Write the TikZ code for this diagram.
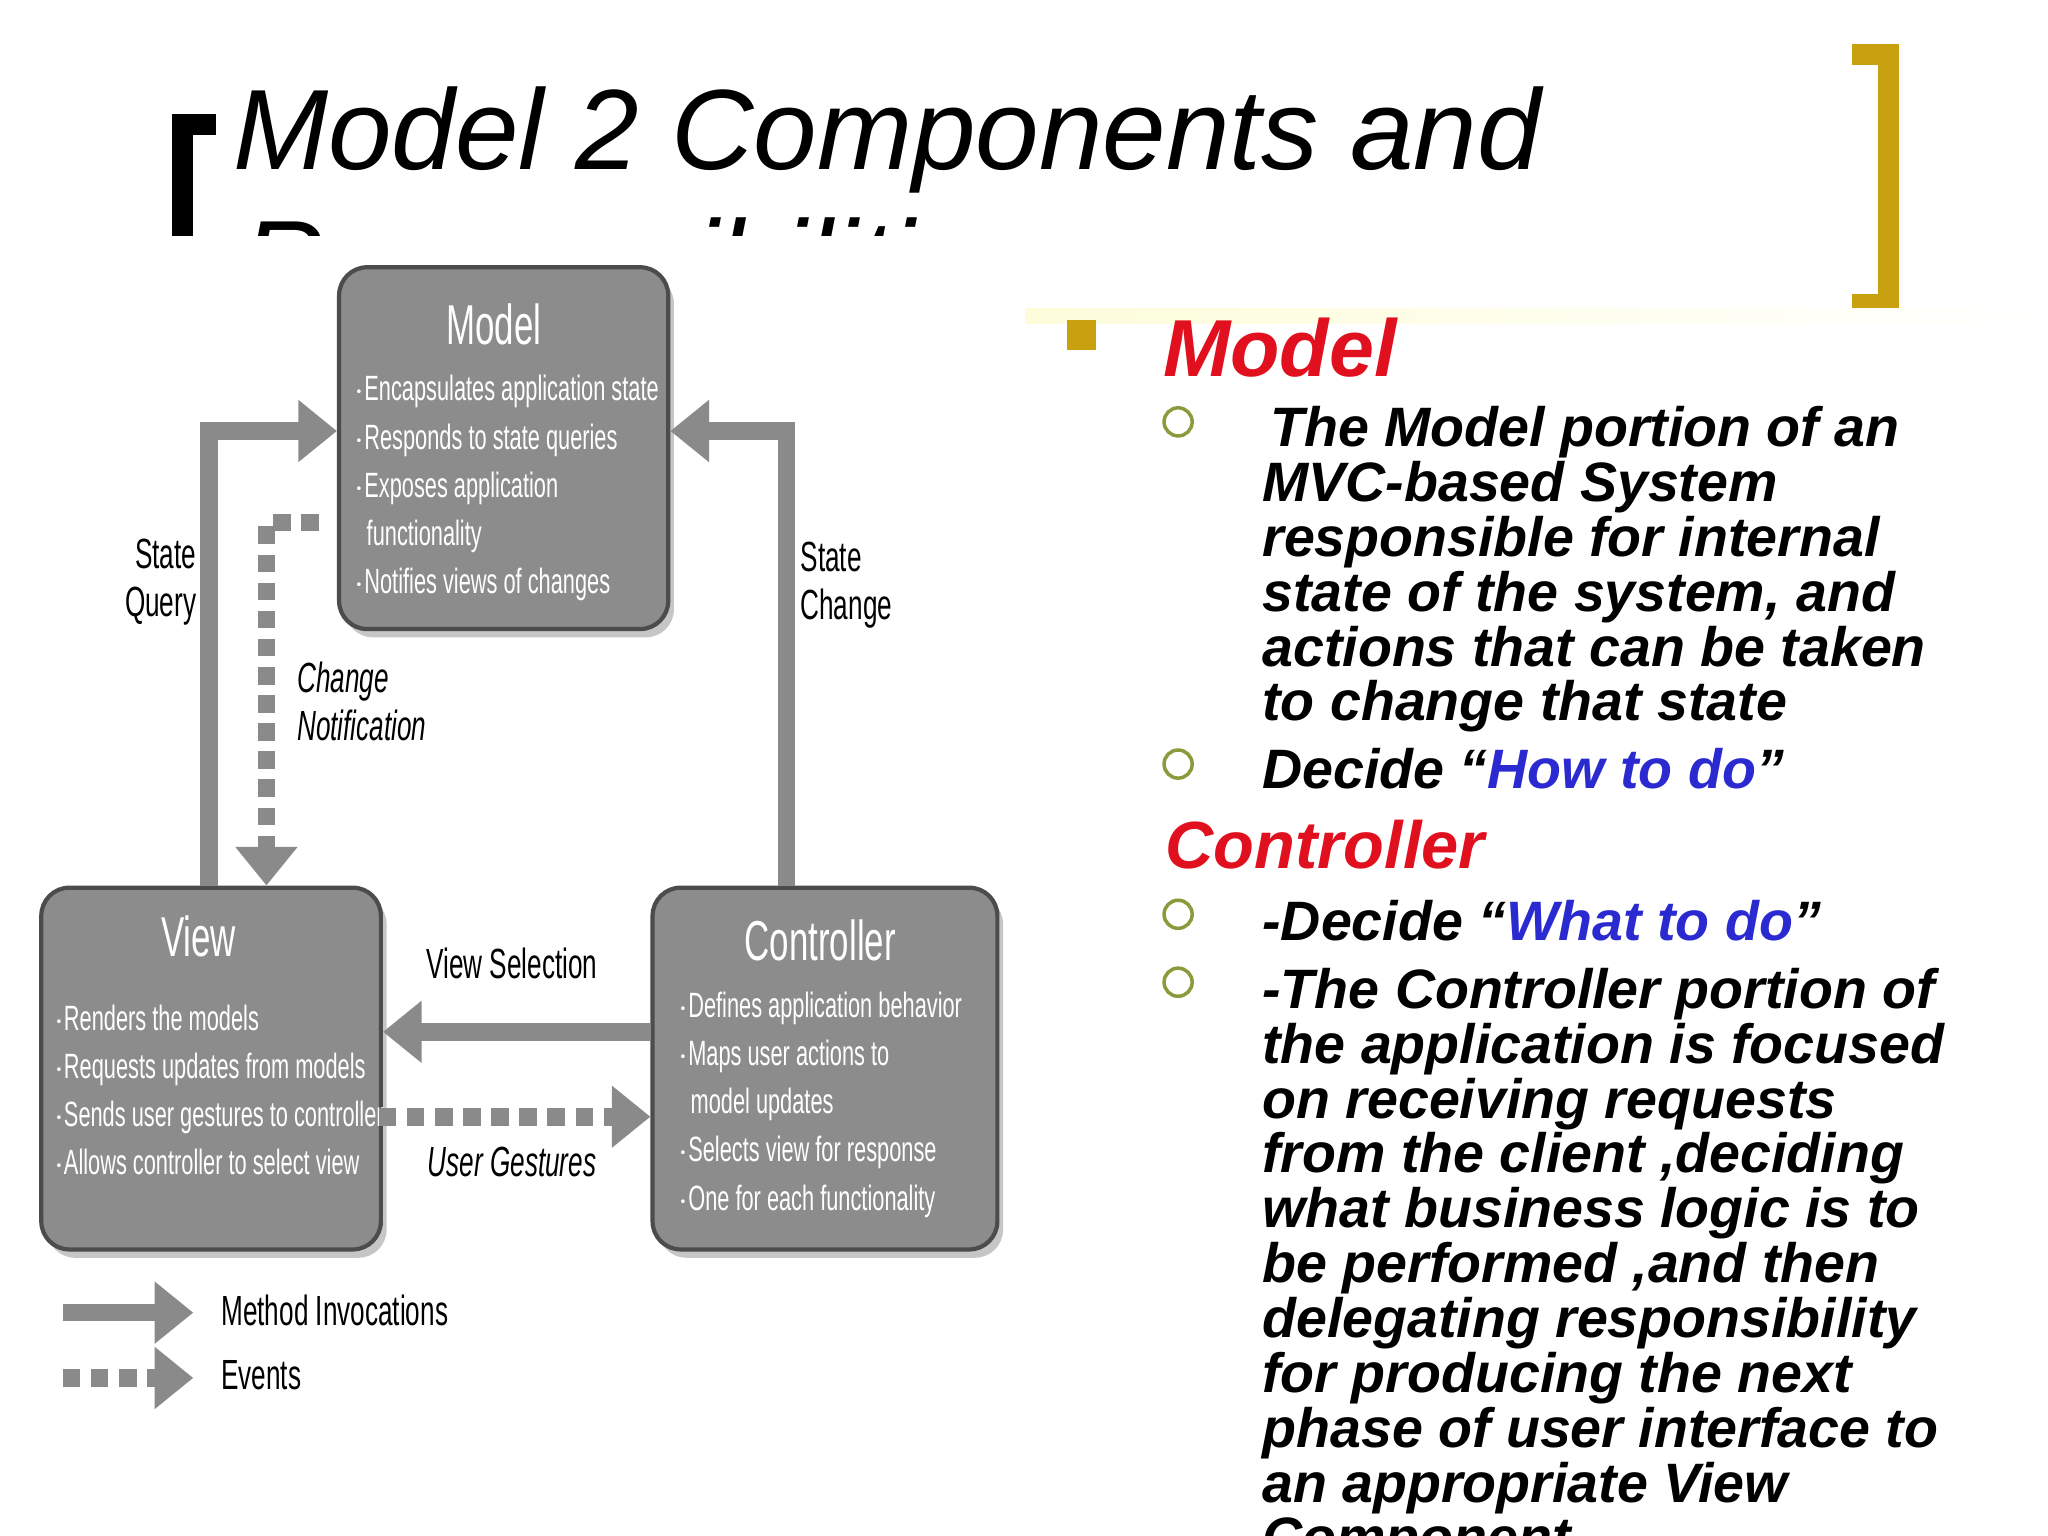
\documentclass[tikz,border=0pt]{standalone}
\usepackage{fontspec}
\setmainfont{Liberation Sans}
\newfontfamily\cond{Liberation Sans}[FakeStretch=0.62]
\usetikzlibrary{arrows.meta}
\definecolor{boxg}{HTML}{8C8C8C}
\definecolor{arrg}{HTML}{8A8A8A}
\definecolor{mred}{HTML}{E0101E}
\definecolor{mblue}{HTML}{2A2AD0}
\definecolor{gold}{HTML}{C9A010}
\definecolor{olive}{HTML}{8C9A3C}
\begin{document}
\begin{tikzpicture}[x=0.013061cm,y=-0.013061cm,
  box/.style={draw=gray!60!black,line width=1.2pt,fill=boxg,rounded corners=8pt},
  shad/.style={fill=gray!45,rounded corners=8pt},
  btitle/.style={text=white,font=\cond\fontsize{16}{18}\selectfont},
  btext/.style={text=white,font=\cond\fontsize{10}{13.7}\selectfont,align=left,anchor=north west},
  marr/.style={draw=arrg,line width=5pt,-{Triangle[length=11pt,width=17pt]}},
  earr/.style={draw=arrg,line width=5pt,dash pattern=on 5pt off 3pt,-{Triangle[length=11pt,width=17pt]}},
  lab/.style={font=\cond\fontsize{12}{13.7}\selectfont,align=left,text=black},
  rt/.style={font=\bfseries\itshape\fontsize{15.8}{15.6}\selectfont,anchor=base west,inner sep=0pt},
  circ/.style={draw=olive,line width=1pt,circle,inner sep=0pt,minimum size=8pt}]
\useasboundingbox (0,0) rectangle (1568,1176);
% title
\begin{scope}
\clip (0,0) rectangle (1568,180);
\node[anchor=base west,font=\itshape\fontsize{32.5}{44}\selectfont,inner sep=0] (title) at (178,130) {Model 2 Components and};
\node[anchor=base west,font=\itshape\fontsize{32.5}{44}\selectfont,inner sep=0] (title2) at (185,230) {Responsibilities};
\draw[line width=6pt] (165,95) -- (140,95) -- (140,200);
\end{scope}
\draw[gold,line width=6pt] (1418,42) -- (1446,42) -- (1446,233) -- (1418,233);
\shade[left color=gray!10!yellow!15,right color=white] (785,236) rectangle (1568,248);
% boxes
\fill[shad] (264,211) rectangle (516,488);
\node[box,minimum width=252*0.013061cm,minimum height=277*0.013061cm,anchor=north west] (model) at (258,203) {};
\fill[shad] (36,686) rectangle (296,963);
\node[box,minimum width=260*0.013061cm,minimum height=277*0.013061cm,anchor=north west] (view) at (30,678) {};
\fill[shad] (504,686) rectangle (768,963);
\node[box,minimum width=264*0.013061cm,minimum height=277*0.013061cm,anchor=north west] (ctrl) at (498,678) {};
\node[btitle] (mt) at (378,248) {Model};
\node[btext] (mb) at (262,278) {$\cdot$Encapsulates application state\\$\cdot$Responds to state queries\\$\cdot$Exposes application\\\ \ functionality\\$\cdot$Notifies views of changes};
\node[btitle] (vt) at (152,717) {View};
\node[btext] (vb) at (32,760) {$\cdot$Renders the models\\$\cdot$Requests updates from models\\$\cdot$Sends user gestures to controller\\$\cdot$Allows controller to select view};
\node[btitle] (ct) at (628,720) {Controller};
\node[btext] (cb) at (510,750) {$\cdot$Defines application behavior\\$\cdot$Maps user actions to\\\ \ model updates\\$\cdot$Selects view for response\\$\cdot$One for each functionality};
% arrows
\coordinate (sq1) at (160,678);
\coordinate (sq2) at (160,330);
\draw[marr] (sq1) -- (sq2) -- (model.west |- sq2);
\coordinate (sc1) at (602,678);
\coordinate (sc2) at (602,330);
\draw[marr] (sc1) -- (sc2) -- (model.east |- sc2);
\coordinate (cn1) at (244,400);
\coordinate (cn2) at (204,400);
\draw[earr] (cn1) -- (cn2) -- (view.north -| cn2);
\coordinate (vs) at (498,790);
\draw[marr] (vs) -- (view.east |- vs);
\coordinate (ug) at (290,855);
\draw[earr] (ug) -- (ctrl.west |- ug);
\node[lab,align=right] (sql) at (123,446) {State\\Query};
\node[lab] (scl) at (648,448) {State\\Change};
\node[lab,font=\cond\itshape\fontsize{12}{13.7}\selectfont,anchor=west] (cnl) at (218,537) {Change\\Notification};
\node[lab] (vsl) at (392,738) {View Selection};
\node[lab,font=\cond\itshape\fontsize{12}{13.7}\selectfont] (ugl) at (392,890) {User Gestures};
% legend
\coordinate (l1a) at (48,1005); \coordinate (l1b) at (148,1005);
\draw[marr] (l1a) -- (l1b);
\coordinate (l2a) at (48,1055); \coordinate (l2b) at (148,1055);
\draw[earr] (l2a) -- (l2b);
\node[lab,anchor=west] (lm) at (160,1003) {Method Invocations};
\node[lab,anchor=west] (le) at (160,1053) {Events};
% right text
\fill[gold] (817,245) rectangle (839,268);
\node[rt,text=mred,font=\bfseries\itshape\fontsize{23}{24}\selectfont] (hm) at (890,288) {Model};
\node[circ] (c1) at (902,323) {};
\node[rt] (t1) at (972,342) {The Model portion of an};
\node[rt] (t2) at (966,384) {MVC-based System};
\node[rt] (t3) at (966,426) {responsible for internal};
\node[rt] (t4) at (966,468) {state of the system, and};
\node[rt] (t5) at (966,510) {actions that can be taken};
\node[rt] (t6) at (966,552) {to change that state};
\node[circ] (c2) at (902,585) {};
\node[rt] (t7) at (966,604) {Decide \textquotedblleft\textcolor{mblue}{How to do}\textquotedblright};
\node[rt,text=mred,font=\bfseries\itshape\fontsize{19}{20}\selectfont] (hc) at (892,665) {Controller};
\node[circ] (c3) at (902,700) {};
\node[rt] (u1) at (966,720) {-Decide \textquotedblleft\textcolor{mblue}{What to do}\textquotedblright};
\node[circ] (c4) at (902,752) {};
\node[rt] (u2) at (966,772) {-The Controller portion of};
\node[rt] (u3) at (966,814) {the application is focused};
\node[rt] (u4) at (966,856) {on receiving requests};
\node[rt] (u5) at (966,898) {from the client ,deciding};
\node[rt] (u6) at (966,940) {what business logic is to};
\node[rt] (u7) at (966,982) {be performed ,and then};
\node[rt] (u8) at (966,1024) {delegating responsibility};
\node[rt] (u9) at (966,1066) {for producing the next};
\node[rt] (u10) at (966,1108) {phase of user interface to};
\node[rt] (u11) at (966,1150) {an appropriate View};
\begin{scope}
\clip (900,1150) rectangle (1568,1176);
\node[rt] (u12) at (966,1192) {Component};
\end{scope}
\end{tikzpicture}
\end{document}
